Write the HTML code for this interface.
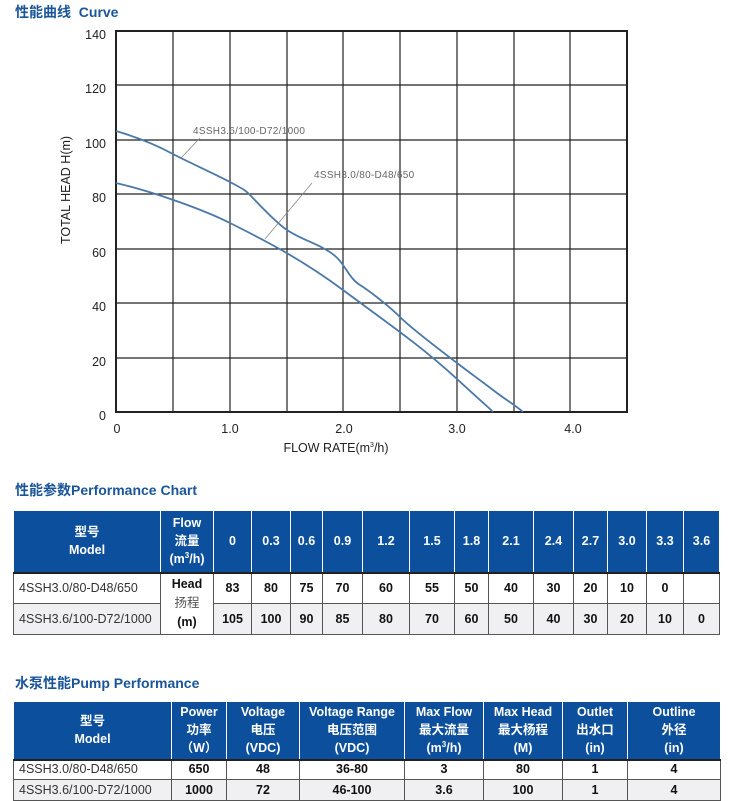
<!DOCTYPE html>
<html><head><meta charset="utf-8"><style>
body{margin:0;width:750px;height:800px;background:#fff;overflow:hidden;position:relative;font-family:"Liberation Sans","Noto Sans CJK SC",sans-serif}
.t{position:absolute;left:15px;font-weight:bold;color:#1a5599;font-size:14px;font-family:"Liberation Sans","Noto Sans CJK SC",sans-serif}
table{position:absolute;border-collapse:collapse;table-layout:fixed;font-family:"Liberation Sans","Noto Sans CJK SC",sans-serif;font-size:12.5px}
td{text-align:center;padding:0;border:1px solid #555;line-height:17px;white-space:nowrap;overflow:hidden}
th{background:#0c4f9c;color:#fff;font-weight:bold;border:1px solid #fff;border-bottom:2px solid #222;font-size:12.5px;line-height:18px;padding:0}
td.m{text-align:left;padding-left:5px;font-weight:normal;color:#333}
td{font-weight:bold;color:#111}
tr.g td{background:#f0f0f2}
</style></head><body>
<div class="t" style="top:2px">性能曲线&nbsp; Curve</div>
<svg style="position:absolute;left:0;top:0" width="750" height="470">
<g stroke="#222" stroke-width="1.2" fill="none">
<line x1="173" y1="31" x2="173" y2="412"/><line x1="230" y1="31" x2="230" y2="412"/><line x1="287" y1="31" x2="287" y2="412"/><line x1="343" y1="31" x2="343" y2="412"/><line x1="400" y1="31" x2="400" y2="412"/><line x1="457" y1="31" x2="457" y2="412"/><line x1="514" y1="31" x2="514" y2="412"/><line x1="570" y1="31" x2="570" y2="412"/>
<line x1="116" y1="85" x2="627" y2="85"/><line x1="116" y1="140" x2="627" y2="140"/><line x1="116" y1="194" x2="627" y2="194"/><line x1="116" y1="249" x2="627" y2="249"/><line x1="116" y1="303" x2="627" y2="303"/><line x1="116" y1="358" x2="627" y2="358"/>
<rect x="116" y="31" width="511" height="381" stroke-width="2"/>
</g>
<g stroke="#4a78a8" stroke-width="1.8" fill="none">
<path d="M116,131 C140,138 160,147 173,154 S215,174 230,182 S245,190 250,195 S275,222 287,230 S312,242 323,248 S338,258 343,265 S352,280 360,285 S388,305 400,317 S440,350 457,363 S480,380 493,390 S515,405 523,412"/>
<path d="M116,183 C150,191 200,208 230,223 S300,258 343,290 S420,345 457,379 S485,404 493,412"/>
</g>
<g stroke="#888" stroke-width="0.8"><line x1="200" y1="138" x2="181" y2="158"/><line x1="312" y1="183" x2="265" y2="239"/></g>
<g fill="#666" font-size="10" font-family="Liberation Sans,sans-serif" letter-spacing="0.3">
<text x="193" y="134">4SSH3.6/100-D72/1000</text><text x="314" y="178">4SSH3.0/80-D48/650</text></g>
<g fill="#222" font-size="12.5" font-family="Liberation Sans,sans-serif" text-anchor="end">
<text x="106" y="39">140</text><text x="106" y="93">120</text><text x="106" y="148">100</text><text x="106" y="202">80</text><text x="106" y="257">60</text><text x="106" y="311">40</text><text x="106" y="366">20</text><text x="106" y="420">0</text></g>
<g fill="#222" font-size="12.5" font-family="Liberation Sans,sans-serif" text-anchor="middle">
<text x="117" y="433">0</text><text x="230" y="433">1.0</text><text x="344" y="433">2.0</text><text x="457" y="433">3.0</text><text x="573" y="433">4.0</text>
<text x="336" y="452">FLOW RATE(m<tspan font-size="7" dy="-5">3</tspan><tspan dy="5">/h)</tspan></text>
<text transform="translate(70,190) rotate(-90)">TOTAL HEAD H(m)</text></g>
</svg>
<div class="t" style="top:480px">性能参数Performance Chart</div>
<table style="left:13px;top:510px;width:707px">
<colgroup><col style="width:147px"><col style="width:53px"><col style="width:38px"><col style="width:39px"><col style="width:32px"><col style="width:40px"><col style="width:47px"><col style="width:45px"><col style="width:34px"><col style="width:45px"><col style="width:40px"><col style="width:34px"><col style="width:39px"><col style="width:37px"><col style="width:36px"></colgroup>
<tr style="height:62px"><th>型号<br>Model</th><th>Flow<br>流量<br>(m<sup style="font-size:8px;line-height:0">3</sup>/h)</th><th>0</th><th>0.3</th><th>0.6</th><th>0.9</th><th>1.2</th><th>1.5</th><th>1.8</th><th>2.1</th><th>2.4</th><th>2.7</th><th>3.0</th><th>3.3</th><th>3.6</th></tr>
<tr style="height:31px"><td class="m">4SSH3.0/80-D48/650</td><td rowspan="2" style="line-height:19px">Head<br><span style="font-weight:normal;color:#555">扬程</span><br>(m)</td><td>83</td><td>80</td><td>75</td><td>70</td><td>60</td><td>55</td><td>50</td><td>40</td><td>30</td><td>20</td><td>10</td><td>0</td><td></td></tr>
<tr class="g" style="height:31px"><td class="m">4SSH3.6/100-D72/1000</td><td>105</td><td>100</td><td>90</td><td>85</td><td>80</td><td>70</td><td>60</td><td>50</td><td>40</td><td>30</td><td>20</td><td>10</td><td>0</td></tr>
</table>
<div class="t" style="top:673px">水泵性能Pump Performance</div>
<table style="left:13px;top:701px;width:707px">
<colgroup><col style="width:158px"><col style="width:55px"><col style="width:73px"><col style="width:105px"><col style="width:79px"><col style="width:79px"><col style="width:65px"><col style="width:93px"></colgroup>
<tr style="height:58px"><th>型号<br>Model</th><th>Power<br>功率<br>（W）</th><th>Voltage<br>电压<br>(VDC)</th><th>Voltage Range<br>电压范围<br>(VDC)</th><th>Max Flow<br>最大流量<br>(m<sup style="font-size:8px;line-height:0">3</sup>/h)</th><th>Max Head<br>最大杨程<br>(M)</th><th>Outlet<br>出水口<br>(in)</th><th>Outline<br>外径<br>(in)</th></tr>
<tr style="height:20px"><td class="m">4SSH3.0/80-D48/650</td><td>650</td><td>48</td><td>36-80</td><td>3</td><td>80</td><td>1</td><td>4</td></tr>
<tr class="g" style="height:21px"><td class="m">4SSH3.6/100-D72/1000</td><td>1000</td><td>72</td><td>46-100</td><td>3.6</td><td>100</td><td>1</td><td>4</td></tr>
</table>
</body></html>
